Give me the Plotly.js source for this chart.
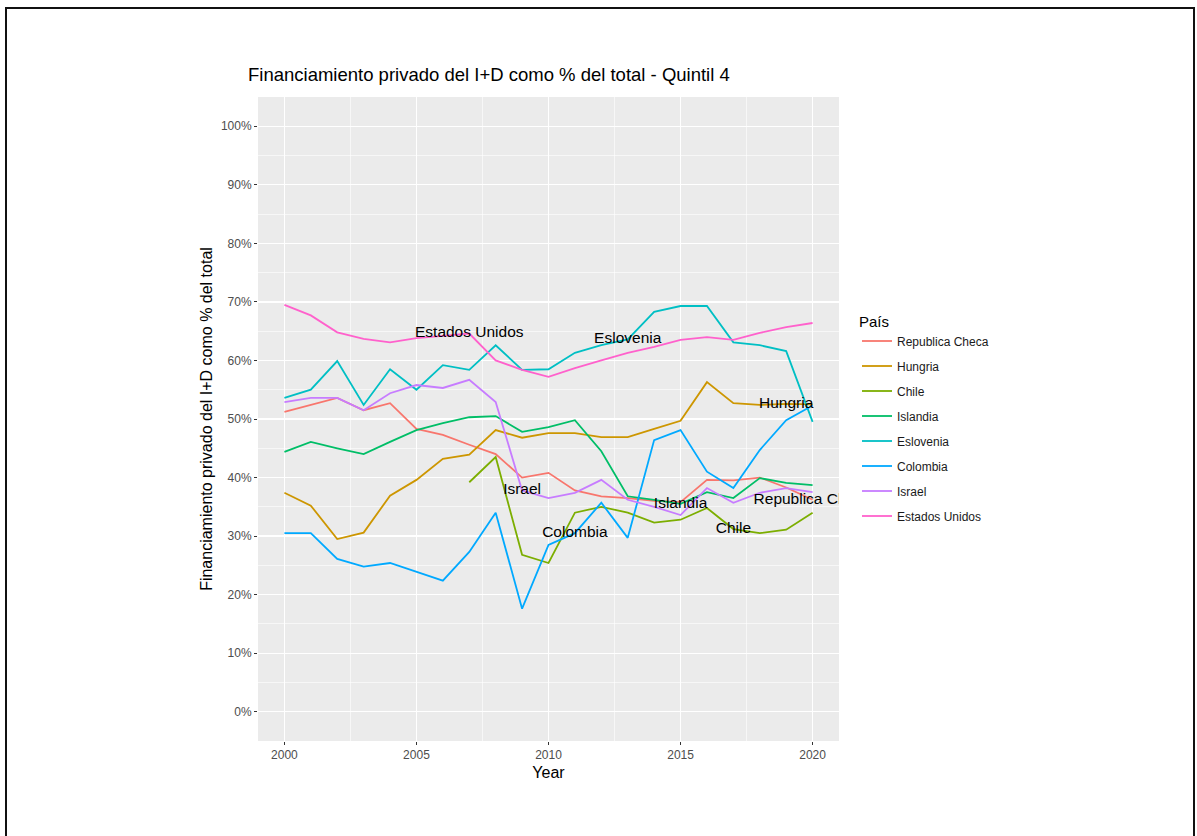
<!DOCTYPE html>
<html>
<head>
<meta charset="utf-8">
<script src="https://cdn.plot.ly/plotly-3.0.1.min.js"></script>
<style>
  html, body { margin: 0; padding: 0; background: #ffffff; }
  #chart { width: 1197px; height: 836px; }
  #frame { position: absolute; left: 5px; top: 7px; width: 1186px; height: 900px;
           border: 2px solid #111; border-bottom: none; pointer-events: none; }
</style>
</head>
<body>
<div id="chart"></div>
<div id="frame"></div>
<script>
// ---- data (percent) ----
const years = [2000, 2001, 2002, 2003, 2004, 2005, 2006, 2007, 2008, 2009, 2010,
               2011, 2012, 2013, 2014, 2015, 2016, 2017, 2018, 2019, 2020];

const countries = ["Republica Checa", "Hungria", "Chile", "Islandia", "Eslovenia",
                   "Colombia", "Israel", "Estados Unidos"];

const repChecaVals = [51.2, 52.4, 53.6, 51.5, 52.7, 48.3, 47.3, 45.6, 44.0, 40.0, 40.8,
                      37.8, 36.8, 36.5, 36.0, 35.8, 39.6, 39.5, 40.0, 38.3, 36.2];
const hungriaVals  = [37.4, 35.2, 29.5, 30.6, 36.9, 39.6, 43.2, 43.9, 48.1, 46.8, 47.6,
                      47.6, 46.9, 46.9, 48.3, 49.7, 56.3, 52.7, 52.4, 52.6, 52.5];
const chileVals    = [null, null, null, null, null, null, null, 39.2, 43.5, 26.8, 25.4,
                      34.0, 35.0, 34.0, 32.3, 32.8, 34.8, 31.2, 30.5, 31.1, 34.0];
const islandiaVals = [44.4, 46.1, 45.0, 44.0, 46.1, 48.1, 49.3, 50.3, 50.5, 47.8, 48.6,
                      49.8, 44.5, 36.8, 36.2, 35.5, 37.5, 36.5, 39.9, 39.1, 38.7];
const esloveniaVals= [53.6, 55.0, 59.9, 52.4, 58.5, 55.0, 59.2, 58.4, 62.6, 58.4, 58.5,
                      61.3, 62.6, 63.6, 68.3, 69.3, 69.3, 63.1, 62.6, 61.6, 49.5];
const colombiaVals = [30.5, 30.5, 26.1, 24.8, 25.4, 23.9, 22.4, 27.3, 34.0, 17.6, 28.5,
                      30.5, 35.7, 29.7, 46.4, 48.1, 41.0, 38.2, 44.7, 49.8, 52.3];
const israelVals   = [52.9, 53.6, 53.6, 51.5, 54.4, 55.8, 55.3, 56.7, 52.9, 37.8, 36.5,
                      37.4, 39.6, 36.2, 35.0, 33.6, 38.2, 35.7, 37.4, 38.2, 37.5];
const usVals       = [69.5, 67.7, 64.8, 63.7, 63.1, 63.8, 64.2, 64.6, 60.0, 58.4, 57.2,
                      58.7, 60.0, 61.3, 62.3, 63.5, 64.0, 63.5, 64.7, 65.7, 66.4];

// direct labels: which year each country's name is written at
const labelYears = [2020, 2019, 2017, 2015, 2013, 2011, 2009, 2007];

const xTicks = [2000, 2005, 2010, 2015, 2020];
const yTicks = [0, 10, 20, 30, 40, 50, 60, 70, 80, 90, 100];

// ---- styles ----
const seriesVals = [repChecaVals, hungriaVals, chileVals, islandiaVals, esloveniaVals,
                    colombiaVals, israelVals, usVals];
const colors = ["#F8766D", "#CD9600", "#7CAE00", "#00BE67", "#00BFC4",
                "#00A9FF", "#C77CFF", "#FF61CC"];
const FONT = "Liberation Sans, Arial, Helvetica, sans-serif";

const traces = countries.map((c, i) => ({
  type: "scatter", mode: "lines", name: c,
  x: years, y: seriesVals[i],
  line: { color: colors[i], width: 1.8 },
  legendgroup: "g" + i,
  connectgaps: false,
  hoverinfo: "x+y+name"
}));

traces.push({
  type: "scatter", mode: "text", showlegend: false, hoverinfo: "skip",
  x: labelYears,
  y: countries.map((c, i) => seriesVals[i][years.indexOf(labelYears[i])]),
  text: countries,
  textposition: "middle center",
  textfont: { family: FONT, size: 15.5, color: "#000000" },
  cliponaxis: true
});

const gridAxis = {
  showgrid: true, gridcolor: "#FFFFFF", gridwidth: 1.2,
  zeroline: false, showline: false,
  ticks: "outside", ticklen: 3, tickwidth: 1, tickcolor: "#333333",
  tickfont: { family: FONT, size: 12, color: "#4D4D4D" },
};

const layout = {
  width: 1197, height: 836,
  margin: { l: 258, r: 358, t: 97, b: 95 },
  paper_bgcolor: "#FFFFFF",
  plot_bgcolor: "#EBEBEB",
  font: { family: FONT, color: "#000000" },
  title: {
    text: "Financiamiento privado del I+D como % del total - Quintil 4",
    font: { family: FONT, size: 18.5, color: "#000000" },
    xref: "container", x: 248 / 1197, xanchor: "left",
    yref: "container", y: 1 - 75 / 836, yanchor: "middle"
  },
  xaxis: Object.assign({}, gridAxis, {
    range: [1999, 2021],
    tickmode: "array", tickvals: xTicks, ticktext: xTicks.map(String),
    minor: { tickmode: "linear", tick0: 2000, dtick: 2.5, showgrid: true,
             gridcolor: "#FFFFFF", gridwidth: 0.6, ticks: "" },
    title: { text: "Year", font: { family: FONT, size: 16, color: "#000000" }, standoff: 5 }
  }),
  yaxis: Object.assign({}, gridAxis, {
    range: [-5, 105],
    tickmode: "array", tickvals: yTicks, ticktext: yTicks.map(v => v + "%"),
    minor: { tickmode: "linear", tick0: 0, dtick: 5, showgrid: true,
             gridcolor: "#FFFFFF", gridwidth: 0.6, ticks: "" },
    title: { text: "Financiamiento privado del I+D como % del total",
             font: { family: FONT, size: 16, color: "#000000" }, standoff: 4 }
  }),
  legend: {
    xref: "container", yref: "container",
    x: 857 / 1197, y: 1 - 307 / 836, xanchor: "left", yanchor: "top",
    title: { text: "País", font: { family: FONT, size: 15, color: "#000000" } },
    font: { family: FONT, size: 12, color: "#1A1A1A" },
    bgcolor: "rgba(0,0,0,0)",
    tracegroupgap: 6,
    itemwidth: 30
  },
  showlegend: true
};

Plotly.newPlot("chart", traces, layout, { displayModeBar: false, staticPlot: true });
</script>
</body>
</html>
